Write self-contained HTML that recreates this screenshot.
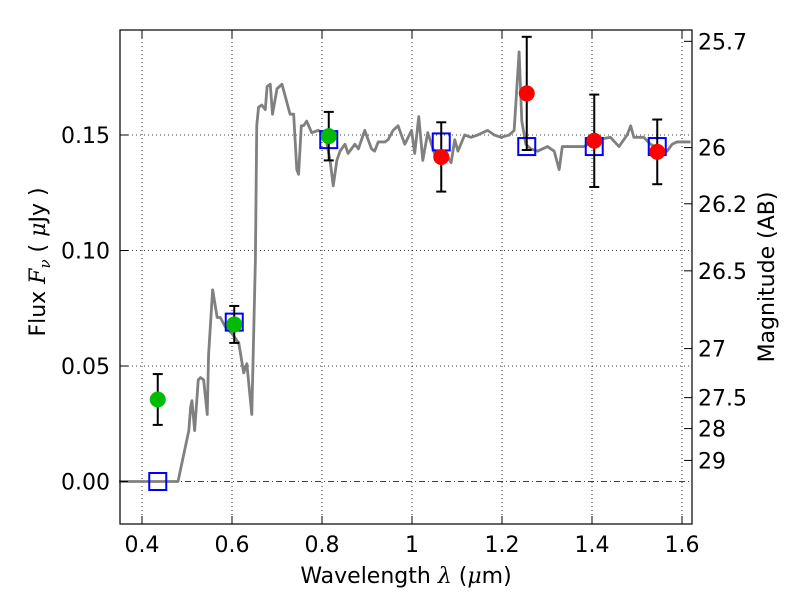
<!DOCTYPE html>
<html><head><meta charset="utf-8"><style>
body{margin:0;background:#fff}
svg text{font-family:"DejaVu Sans","Liberation Sans",sans-serif;font-size:22px;fill:#000}
</style></head><body>
<svg id="chart" width="800" height="600" xmlns="http://www.w3.org/2000/svg">
<g id="grid"></g>
<g id="marks"></g>
<rect x="120" y="30" width="572" height="494" fill="none" stroke="#000" stroke-width="1.2"/>
<g id="axes"></g>
<text x="406" y="583" text-anchor="middle">Wavelength  <tspan font-style="italic" font-family="DejaVu Serif">λ</tspan> (<tspan font-style="italic" font-family="DejaVu Serif">μ</tspan>m)</text>
<text transform="translate(45,262) rotate(-90)" text-anchor="middle">Flux  <tspan font-style="italic" font-family="DejaVu Serif">F</tspan><tspan font-style="italic" font-family="DejaVu Serif" font-size="15" dy="5">ν</tspan><tspan dy="-5">  ( </tspan><tspan font-style="italic" font-family="DejaVu Serif">μ</tspan>Jy )</text>
<text transform="translate(774,277) rotate(-90)" text-anchor="middle">Magnitude (AB)</text>
</svg>
<script>
const specWl=[0.349,0.480,0.504,0.508,0.511,0.517,0.525,0.530,0.537,0.545,0.548,0.557,0.567,0.574,0.585,0.600,0.615,0.626,0.633,0.644,0.652,0.655,0.659,0.666,0.674,0.678,0.685,0.690,0.700,0.711,0.718,0.729,0.737,0.744,0.748,0.754,0.759,0.766,0.777,0.792,0.807,0.818,0.825,0.833,0.840,0.851,0.858,0.873,0.881,0.895,0.910,0.917,0.925,0.940,0.947,0.958,0.969,0.984,0.999,1.006,1.015,1.024,1.035,1.050,1.072,1.087,1.095,1.102,1.117,1.131,1.146,1.168,1.183,1.198,1.216,1.227,1.238,1.244,1.253,1.264,1.279,1.301,1.316,1.327,1.334,1.353,1.382,1.412,1.441,1.460,1.478,1.486,1.493,1.515,1.530,1.552,1.567,1.578,1.589,1.619];
const specFlux=[0,0,0.022,0.032,0.035,0.022,0.044,0.045,0.044,0.029,0.055,0.083,0.071,0.071,0.067,0.064,0.060,0.047,0.051,0.029,0.096,0.154,0.162,0.163,0.161,0.171,0.172,0.159,0.170,0.172,0.167,0.159,0.159,0.135,0.133,0.154,0.154,0.156,0.151,0.152,0.150,0.139,0.128,0.139,0.143,0.146,0.142,0.146,0.144,0.152,0.144,0.143,0.147,0.147,0.148,0.152,0.154,0.146,0.152,0.142,0.158,0.139,0.151,0.142,0.143,0.138,0.148,0.143,0.150,0.149,0.150,0.152,0.150,0.149,0.150,0.152,0.186,0.156,0.146,0.144,0.143,0.145,0.143,0.135,0.145,0.145,0.145,0.148,0.149,0.145,0.150,0.154,0.149,0.149,0.146,0.144,0.143,0.146,0.147,0.147];
const obsWl=[0.435,0.605,0.815,1.065,1.255,1.405,1.545];
const obsFlux=[0.0355,0.068,0.1495,0.1405,0.168,0.1475,0.1427];
const obsErr=[0.011,0.008,0.0105,0.015,0.0245,0.02,0.014];
const obsColor=["#00bb00","#00bb00","#00bb00","#ff0000","#ff0000","#ff0000","#ff0000"];
const modelFlux=[0.0,0.069,0.148,0.147,0.145,0.145,0.145];
const xTicks=[0.4,0.6,0.8,1.0,1.2,1.4,1.6];
const xTickLabels=["0.4","0.6","0.8","1","1.2","1.4","1.6"];
const yTicks=[0,0.05,0.10,0.15];
const yTickLabels=["0.00","0.05","0.10","0.15"];
const magTicks=[25.7,26,26.2,26.5,27,27.5,28,29];
const magLabels=["25.7","26","26.2","26.5","27","27.5","28","29"];
const NS="http://www.w3.org/2000/svg";
const X=v=>142+(v-0.4)*450;
const Y=v=>481.5-v*2310;
function mk(tag,attrs,parent){const e=document.createElementNS(NS,tag);for(const k in attrs)e.setAttribute(k,attrs[k]);parent.appendChild(e);return e;}
const grid=document.getElementById('grid'),marks=document.getElementById('marks'),axes=document.getElementById('axes');
xTicks.forEach((t,i)=>{
 const l=mk('line',{x1:X(t),x2:X(t),y1:30,y2:524,stroke:'#000','stroke-width':0.8,'stroke-dasharray':'1,3'},grid);
 
 
 mk('line',{x1:X(t),x2:X(t),y1:524,y2:516,stroke:'#000'},axes);
 mk('line',{x1:X(t),x2:X(t),y1:30,y2:38,stroke:'#000'},axes);
 const tx=mk('text',{x:X(t),y:552,'text-anchor':'middle'},axes);tx.textContent=xTickLabels[i];
 
 
});
yTicks.forEach((t,i)=>{
 if(t!==0){const l=mk('line',{x1:120,x2:692,y1:Y(t),y2:Y(t),stroke:'#000','stroke-width':0.8,'stroke-dasharray':'1,3'},grid);
 
 }
 mk('line',{x1:120,x2:128,y1:Y(t),y2:Y(t),stroke:'#000'},axes);
 const tx=mk('text',{x:110,y:Y(t)+8,'text-anchor':'end'},axes);tx.textContent=yTickLabels[i];
 
 
});
const zl=mk('line',{x1:120,x2:692,y1:Y(0),y2:Y(0),stroke:'#000','stroke-width':0.8,'stroke-dasharray':'6,3,1,3'},grid);


magTicks.forEach((m,i)=>{
 const y=Y(Math.pow(10,(23.9-m)/2.5));
 mk('line',{x1:684,x2:692,y1:y,y2:y,stroke:'#000'},axes);
 const tx=mk('text',{x:698,y:y+8},axes);tx.textContent=magLabels[i];
 
 
});
const sp=mk('polyline',{points:specWl.map((w,i)=>X(w)+','+Y(specFlux[i])).join(' '),fill:'none',stroke:'#808080','stroke-width':2.8,'stroke-linejoin':'round'},marks);


obsWl.forEach((w,i)=>{
 const s=mk('rect',{x:X(w)-8.5,y:Y(modelFlux[i])-8.5,width:17,height:17,fill:'none',stroke:'#0000ff','stroke-width':2},marks);
 
 
});
obsWl.forEach((w,i)=>{
 const g=mk('g',{},marks);
 
 
 const x=X(w),y1=Y(obsFlux[i]+obsErr[i]),y2=Y(obsFlux[i]-obsErr[i]);
 mk('line',{x1:x,x2:x,y1:y1,y2:y2,stroke:'#000','stroke-width':2},g);
 mk('line',{x1:x-5,x2:x+5,y1:y1,y2:y1,stroke:'#000','stroke-width':2},g);
 mk('line',{x1:x-5,x2:x+5,y1:y2,y2:y2,stroke:'#000','stroke-width':2},g);
 const c=mk('circle',{cx:x,cy:Y(obsFlux[i]),r:8,fill:obsColor[i]},marks);
 
 
});
</script>
</body></html>
